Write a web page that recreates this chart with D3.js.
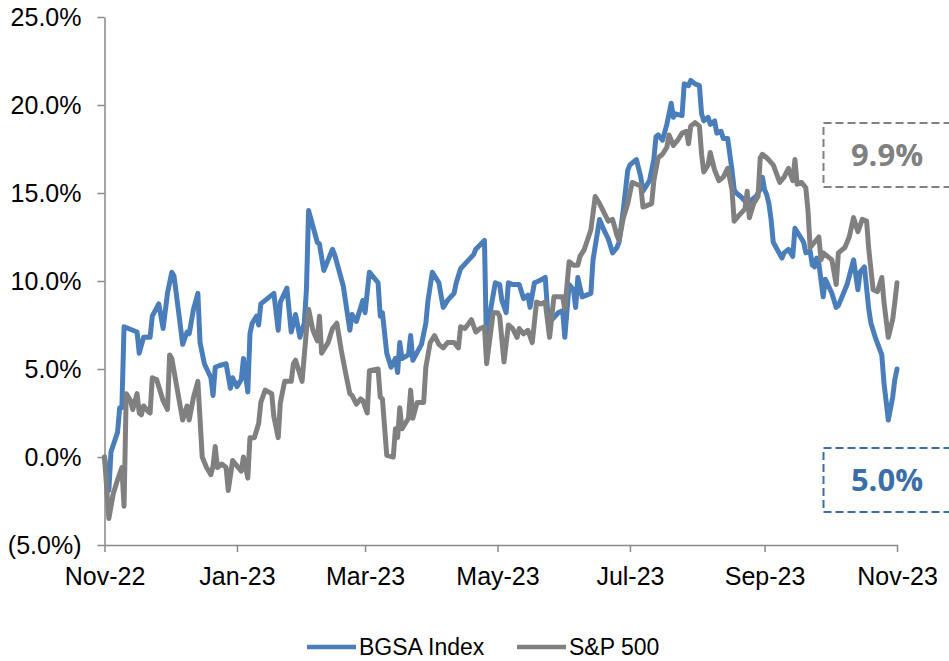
<!DOCTYPE html>
<html><head><meta charset="utf-8">
<script src="https://cdn.jsdelivr.net/npm/d3@7"></script>
<style>
body{margin:0;background:#fff;}
svg{display:block;font-family:Arial,"Liberation Sans",sans-serif;}
</style>
</head><body>
<svg id="chart" width="949" height="661"></svg>
<script>
// ---------- DATA ----------
const seriesNames = ["BGSA Index", "S&P 500"];
const endLabels = ["9.9%", "5.0%"];
const yTicks = [-5, 0, 5, 10, 15, 20, 25];
const xTickDates = ["2022-11-01","2023-01-01","2023-03-01","2023-05-01","2023-07-01","2023-09-01","2023-11-01"];

const bgsaDates = [
"2022-11-01","2022-11-03","2022-11-04","2022-11-07","2022-11-08","2022-11-09","2022-11-10","2022-11-12","2022-11-16","2022-11-17",
"2022-11-19","2022-11-22","2022-11-23","2022-11-26","2022-11-28","2022-11-30","2022-12-02","2022-12-03","2022-12-06","2022-12-07",
"2022-12-09","2022-12-10","2022-12-12","2022-12-14","2022-12-15","2022-12-17","2022-12-20","2022-12-21","2022-12-22","2022-12-24",
"2022-12-27","2022-12-29","2022-12-30","2023-01-01","2023-01-03","2023-01-04","2023-01-06","2023-01-07","2023-01-08","2023-01-10",
"2023-01-11","2023-01-12","2023-01-14","2023-01-18","2023-01-20","2023-01-21","2023-01-24","2023-01-26","2023-01-28","2023-01-30",
"2023-02-01","2023-02-02","2023-02-03","2023-02-05","2023-02-07","2023-02-08","2023-02-10","2023-02-12","2023-02-14","2023-02-15",
"2023-02-19","2023-02-22","2023-02-23","2023-02-25","2023-02-28","2023-03-01","2023-03-03","2023-03-07","2023-03-08","2023-03-09",
"2023-03-11","2023-03-13","2023-03-15","2023-03-16","2023-03-17","2023-03-18","2023-03-21","2023-03-22","2023-03-23","2023-03-27",
"2023-03-29","2023-03-30","2023-04-01","2023-04-04","2023-04-06","2023-04-08","2023-04-11","2023-04-12","2023-04-14","2023-04-17",
"2023-04-20","2023-04-21","2023-04-25","2023-04-26","2023-04-28","2023-04-30","2023-05-02","2023-05-03","2023-05-05","2023-05-06",
"2023-05-08","2023-05-11","2023-05-13","2023-05-15","2023-05-16","2023-05-18","2023-05-20","2023-05-23","2023-05-24","2023-05-26",
"2023-05-29","2023-05-31","2023-06-01","2023-06-03","2023-06-05","2023-06-06","2023-06-07","2023-06-09","2023-06-13","2023-06-14",
"2023-06-17","2023-06-19","2023-06-21","2023-06-23","2023-06-25","2023-06-26","2023-06-28","2023-06-30","2023-07-01","2023-07-04",
"2023-07-06","2023-07-07","2023-07-10","2023-07-12","2023-07-13","2023-07-14","2023-07-16","2023-07-18","2023-07-20","2023-07-21",
"2023-07-22","2023-07-25","2023-07-26","2023-07-28","2023-07-29","2023-07-31","2023-08-02","2023-08-03","2023-08-04","2023-08-06",
"2023-08-07","2023-08-09","2023-08-10","2023-08-12","2023-08-13","2023-08-15","2023-08-17","2023-08-18","2023-08-19","2023-08-21",
"2023-08-24","2023-08-26","2023-08-28","2023-08-30","2023-08-31","2023-09-01","2023-09-02","2023-09-03","2023-09-04","2023-09-05",
"2023-09-09","2023-09-10","2023-09-12","2023-09-14","2023-09-15","2023-09-17","2023-09-19","2023-09-20","2023-09-22","2023-09-23",
"2023-09-24","2023-09-25","2023-09-26","2023-09-28","2023-09-29","2023-10-02","2023-10-04","2023-10-05","2023-10-07","2023-10-09",
"2023-10-12","2023-10-14","2023-10-15","2023-10-17","2023-10-19","2023-10-20","2023-10-22","2023-10-25","2023-10-26","2023-10-28",
"2023-10-30","2023-10-31","2023-11-01"];
const bgsaValues = [
0.0,-1.9,0.3,1.4,2.8,2.8,7.4,7.3,7.1,5.9,
6.8,6.8,8.0,8.7,7.3,9.3,10.5,10.3,7.4,6.4,
7.1,7.0,8.4,9.3,6.5,5.3,4.5,3.5,5.1,5.2,
5.3,3.9,4.5,4.0,4.4,5.6,3.7,7.0,7.6,8.0,
7.5,8.7,8.9,9.3,7.2,8.8,9.6,7.1,8.1,6.8,
7.6,9.5,14.0,13.1,12.2,12.1,10.6,11.2,11.8,11.5,
9.7,7.2,8.1,7.7,8.9,8.2,10.5,9.9,8.0,8.2,
5.9,5.1,5.6,4.8,6.5,5.6,5.8,6.9,5.5,6.4,
7.6,8.9,10.5,9.9,8.5,8.9,9.3,9.9,10.7,11.1,
11.5,11.8,12.3,5.9,8.5,9.9,9.8,8.9,8.2,9.9,
9.8,9.8,9.0,9.2,8.5,9.9,10.0,10.2,8.4,7.8,
8.2,8.3,6.8,9.8,9.5,8.5,10.2,9.1,9.3,11.2,
13.5,12.9,12.4,11.6,11.9,12.2,14.1,16.3,16.6,16.9,
15.9,15.1,15.7,16.9,18.2,18.3,18.0,18.9,20.1,19.3,
19.5,19.4,21.2,21.1,21.4,21.2,21.1,19.5,19.1,19.3,
18.9,19.1,18.4,18.5,18.1,18.1,16.3,15.2,15.0,14.8,
14.4,14.6,14.8,15.2,15.9,15.2,14.9,14.4,13.5,12.2,
11.3,11.6,11.8,11.4,13.0,12.6,12.2,11.6,11.7,10.9,
10.8,11.3,11.0,9.1,10.1,9.3,8.5,8.6,9.2,9.8,
11.2,9.5,10.5,10.8,8.4,7.6,6.8,5.8,4.2,2.1,
3.4,4.4,5.0];

const spDates = [
"2022-11-01","2022-11-03","2022-11-05","2022-11-07","2022-11-09","2022-11-10","2022-11-11","2022-11-13","2022-11-14","2022-11-16",
"2022-11-17","2022-11-18","2022-11-19","2022-11-21","2022-11-22","2022-11-23","2022-11-25","2022-11-28","2022-11-30","2022-12-01",
"2022-12-02","2022-12-04","2022-12-07","2022-12-09","2022-12-10","2022-12-12","2022-12-14","2022-12-16","2022-12-18","2022-12-20",
"2022-12-21","2022-12-22","2022-12-23","2022-12-25","2022-12-27","2022-12-28","2022-12-30","2023-01-01","2023-01-03","2023-01-04",
"2023-01-06","2023-01-07","2023-01-09","2023-01-11","2023-01-12","2023-01-14","2023-01-17","2023-01-18","2023-01-20","2023-01-21",
"2023-01-23","2023-01-26","2023-01-27","2023-01-28","2023-01-31","2023-02-02","2023-02-03","2023-02-05","2023-02-07","2023-02-08",
"2023-02-09","2023-02-12","2023-02-14","2023-02-16","2023-02-18","2023-02-20","2023-02-22","2023-02-23","2023-02-25","2023-02-27",
"2023-02-28","2023-03-02","2023-03-03","2023-03-07","2023-03-08","2023-03-09","2023-03-11","2023-03-14","2023-03-15","2023-03-16",
"2023-03-17","2023-03-18","2023-03-21","2023-03-22","2023-03-23","2023-03-25","2023-03-28","2023-03-29","2023-03-31","2023-04-02",
"2023-04-04","2023-04-06","2023-04-08","2023-04-11","2023-04-13","2023-04-14","2023-04-16","2023-04-19","2023-04-21","2023-04-23",
"2023-04-25","2023-04-26","2023-04-29","2023-05-01","2023-05-02","2023-05-04","2023-05-06","2023-05-08","2023-05-10","2023-05-11",
"2023-05-13","2023-05-15","2023-05-17","2023-05-19","2023-05-21","2023-05-23","2023-05-25","2023-05-27","2023-05-31","2023-06-01",
"2023-06-03","2023-06-05","2023-06-07","2023-06-08","2023-06-10","2023-06-13","2023-06-15","2023-06-17","2023-06-19","2023-06-21",
"2023-06-23","2023-06-25","2023-06-26","2023-06-28","2023-06-30","2023-07-02","2023-07-04","2023-07-06","2023-07-07","2023-07-11",
"2023-07-12","2023-07-14","2023-07-16","2023-07-18","2023-07-19","2023-07-21","2023-07-23","2023-07-25","2023-07-27","2023-07-28",
"2023-07-29","2023-07-31","2023-08-02","2023-08-03","2023-08-04","2023-08-06","2023-08-07","2023-08-09","2023-08-11","2023-08-13",
"2023-08-15","2023-08-17","2023-08-18","2023-08-20","2023-08-23","2023-08-24","2023-08-25","2023-08-27","2023-08-29","2023-08-30",
"2023-08-31","2023-09-02","2023-09-05","2023-09-08","2023-09-10","2023-09-12","2023-09-14","2023-09-15","2023-09-16","2023-09-18",
"2023-09-20","2023-09-21","2023-09-22","2023-09-24","2023-09-26","2023-09-27","2023-09-28","2023-09-30","2023-10-02","2023-10-04",
"2023-10-05","2023-10-08","2023-10-10","2023-10-12","2023-10-14","2023-10-16","2023-10-18","2023-10-19","2023-10-21","2023-10-23",
"2023-10-25","2023-10-26","2023-10-28","2023-10-30","2023-10-31","2023-11-01"];
const spValues = [
0.0,-3.5,-2.1,-1.3,-0.6,-2.8,3.6,3.2,2.7,3.6,
2.5,2.4,2.9,2.6,2.5,4.5,4.4,3.2,2.7,5.8,
5.6,4.2,2.1,2.9,2.1,3.4,4.3,0.0,-0.6,-1.0,
-0.5,0.6,-0.6,-0.4,-0.6,-1.9,-0.2,-0.5,-0.8,0.0,
-1.2,1.1,1.1,1.9,3.1,3.8,3.6,2.3,1.1,3.1,
4.3,4.3,5.3,5.5,4.3,7.2,8.4,7.2,6.6,8.0,
5.9,6.5,7.3,7.6,6.1,4.8,3.6,3.5,3.0,3.3,
3.2,2.5,4.9,5.0,3.4,3.3,0.1,0.0,1.6,1.1,
2.8,1.6,2.2,3.8,2.2,3.1,3.1,5.1,6.5,6.9,
6.4,6.2,6.5,6.5,6.2,7.4,7.3,7.8,7.1,7.3,
7.4,5.3,8.2,8.2,8.0,5.4,7.5,7.3,6.8,7.3,
7.0,7.2,6.5,8.8,8.7,8.8,6.8,9.1,9.1,8.4,
11.1,10.9,10.9,11.4,11.8,12.9,14.8,14.4,13.9,13.4,
13.5,12.6,12.3,13.6,14.4,15.6,15.5,15.4,14.2,14.4,
15.7,17.0,17.2,17.6,18.3,17.7,18.0,18.4,18.5,17.8,
18.8,19.0,18.8,17.2,16.2,16.6,17.3,16.3,15.7,15.9,
16.4,15.2,13.4,13.7,14.1,15.1,13.6,14.4,14.8,17.0,
17.2,17.0,16.6,15.6,15.9,16.4,15.7,16.9,15.5,15.6,
15.3,14.0,11.9,12.2,12.5,11.2,11.6,11.4,11.2,9.8,
11.6,11.9,12.5,13.6,12.8,13.5,13.4,11.8,9.5,9.4,
10.2,8.8,6.8,7.8,8.8,9.9];

// ---------- CHART ----------
const parse = d3.timeParse("%Y-%m-%d");
const blue = "#4a7ebb", gray = "#808080", darkBlue = "#3b6ea8", axisCol = "#898989";
const svg = d3.select("#chart");

const x = d3.scaleTime()
  .domain([parse(xTickDates[0]), parse(xTickDates[xTickDates.length - 1])])
  .range([104.5, 897]);
const y = d3.scaleLinear().domain([-5, 25]).range([545, 17]);

const fmtY = v => v < 0 ? "(" + Math.abs(v).toFixed(1) + "%)" : v.toFixed(1) + "%";

// Y axis
const gy = svg.append("g").attr("transform", "translate(104.5,0)")
  .call(d3.axisLeft(y).tickValues(yTicks).tickFormat(fmtY).tickSize(7).tickSizeOuter(0).tickPadding(16));
gy.select(".domain").attr("stroke", axisCol).attr("stroke-width", 1.5);
gy.selectAll(".tick line").attr("stroke", axisCol).attr("stroke-width", 1.5);
gy.selectAll(".tick text").attr("fill", "#000").style("font-size", "25px")
  .style("font-family", "Arial, 'Liberation Sans', sans-serif");

// X axis
const gx = svg.append("g").attr("transform", "translate(0,545)")
  .call(d3.axisBottom(x).tickValues(xTickDates.map(parse)).tickFormat(d3.timeFormat("%b-%y")).tickSize(7).tickSizeOuter(0));
gx.select(".domain").attr("stroke", axisCol).attr("stroke-width", 1.5);
gx.selectAll(".tick line").attr("stroke", axisCol).attr("stroke-width", 1.5);
gx.selectAll(".tick text").attr("fill", "#000").attr("y", 40).attr("dy", 0).style("font-size", "25px")
  .style("font-family", "Arial, 'Liberation Sans', sans-serif");

// Lines
const line = d3.line().x(d => x(d.date)).y(d => y(d.v)).curve(d3.curveLinear);
const bgsa = bgsaDates.map((d, i) => ({date: parse(d), v: bgsaValues[i]}));
const sp = spDates.map((d, i) => ({date: parse(d), v: spValues[i]}));

svg.append("path").datum(bgsa).attr("d", line).attr("fill", "none")
  .attr("stroke", blue).attr("stroke-width", 5).attr("stroke-linejoin", "round").attr("stroke-linecap", "round");
svg.append("path").datum(sp).attr("d", line).attr("fill", "none")
  .attr("stroke", gray).attr("stroke-width", 5).attr("stroke-linejoin", "round").attr("stroke-linecap", "round");

// Annotation boxes
const boxes = [
  {text: endLabels[0], color: gray, top: 123},
  {text: endLabels[1], color: darkBlue, top: 448}
];
boxes.forEach(b => {
  svg.append("rect").attr("x", 823.5).attr("y", b.top).attr("width", 140).attr("height", 64)
    .attr("fill", "none").attr("stroke", b.color).attr("stroke-width", 2).attr("stroke-dasharray", "8,4");
  svg.append("text").attr("x", 887).attr("y", b.top + 43).attr("text-anchor", "middle")
    .attr("fill", b.color).style("font-family", "'Open Sans', Arial, sans-serif")
    .style("font-size", "31px").style("font-weight", "bold").text(b.text);
});

// Legend
const legend = [
  {name: seriesNames[0], color: blue, x0: 307},
  {name: seriesNames[1], color: gray, x0: 517}
];
legend.forEach(l => {
  svg.append("line").attr("x1", l.x0).attr("x2", l.x0 + 49).attr("y1", 647).attr("y2", 647)
    .attr("stroke", l.color).attr("stroke-width", 4.5);
  svg.append("text").attr("x", l.x0 + 52).attr("y", 655).attr("fill", "#000")
    .style("font-size", "23px").text(l.name);
});
</script>
</body></html>
